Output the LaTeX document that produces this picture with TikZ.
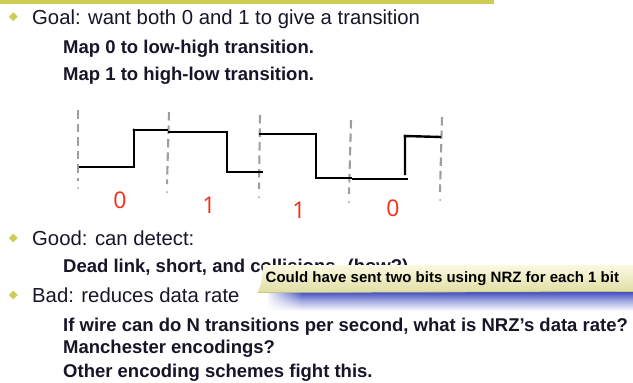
\documentclass[tikz,border=0pt]{standalone}
\usepackage{fontspec}
\setmainfont{Liberation Sans}
\newfontfamily\digitfont{Open Sans}
\usetikzlibrary{shapes.geometric,fadings}
\definecolor{accent}{RGB}{205,205,85}
\definecolor{ink}{RGB}{22,22,40}
\definecolor{bitred}{RGB}{245,45,20}
\definecolor{gridgray}{RGB}{158,158,158}
\definecolor{notetop}{RGB}{250,249,226}
\definecolor{notebot}{RGB}{224,221,163}
\definecolor{noteedge}{RGB}{200,196,130}
\definecolor{shadowblue}{RGB}{55,70,188}
\tikzfading[name=fadeleft, left color=transparent!0, right color=transparent!100]
\begin{document}
\begin{tikzpicture}[x=1pt,y=-1pt,
  lvlone/.style={anchor=base west, inner sep=0pt, text=ink, font=\fontsize{20.3}{24}\selectfont},
  lvltwo/.style={anchor=base west, inner sep=0pt, text=ink, font=\fontsize{18.5}{22}\selectfont\bfseries},
  bulletmark/.style={diamond, fill=accent, inner sep=0pt, minimum width=9pt, minimum height=9pt},
  bitlabel/.style={text=bitred, inner sep=0pt, font=\digitfont\fontsize{23}{27}\selectfont},
  wave/.style={line width=2.4pt, black, line join=miter},
  gridline/.style={gridgray, line width=2.1pt, dash pattern=on 8.5pt off 5pt},
  notetext/.style={anchor=base west, inner sep=0pt, text=black, font=\fontsize{15}{18}\selectfont\bfseries}
]
\useasboundingbox (0,0) rectangle (633,383);
\fill[white] (0,0) rectangle (633,383);

% title rule
\fill[accent] (0,0) rectangle (494,3.5);

% first bullet block
\node[bulletmark] (b1) at (13.3,16.7) {};
\node[lvlone] (goal) at (32,24) {Goal: want both 0 and 1 to give a transition};
\node[lvltwo] (map0) at (63,53) {Map 0 to low-high transition.};
\node[lvltwo] (map1) at (63,80) {Map 1 to high-low transition.};

% bit-cell boundaries
\draw[gridline] (78,110) -- (78,181);
\draw[gridline] (169,112) -- (167,184);
\draw[gridline] (260,115) -- (259,189);
\draw[gridline] (351,120) -- (349,194);
\draw[gridline] (442,117) -- (440,192);
\foreach \px/\py in {78/188, 167/192, 259/197, 349/202, 440/200}
  \fill[gridgray] (\px,\py) circle (1);

% Manchester waveform for 0 1 1 0
\draw[wave] (79,167) -- (134,167) -- (134,130) -- (168,130);
\draw[wave] (168,132) -- (227,132) -- (227,172) -- (263,172);
\draw[wave] (259,134) -- (316,134) -- (316,178) -- (352,178);
\draw[wave] (352,179) -- (408,179);
\draw[wave] (405,175) -- (405,136) -- (441,137);
\fill (134,130) circle (1.7);
\fill (405,136) circle (1.7);

% bit values
\node[bitlabel] (bit1) at (120,200) {0};
\node[bitlabel] (bit2) at (209,205) {1};
\node[bitlabel] (bit3) at (299,210) {1};
\node[bitlabel] (bit4) at (393,208) {0};

% second bullet block
\node[bulletmark] (b2) at (13.3,238) {};
\node[lvlone] (good) at (32,245) {Good: can detect:};
\node[lvltwo] (dead) at (63,272) {Dead link, short, and collisions. (how?)};
\node[bulletmark] (b3) at (13.3,295) {};
\node[lvlone] (bad) at (32,302) {Bad: reduces data rate};
\node[lvltwo] (wire) at (63,331) {If wire can do N transitions per second, what is NRZ’s data rate?};
\node[lvltwo] (manch) at (63,353) {Manchester encodings?};
\node[lvltwo] (other) at (63,377) {Other encoding schemes fight this.};

% callout with its drop shadow
\shade[top color=shadowblue, bottom color=shadowblue!45!white] (268,291) rectangle (633,301);
\shade[top color=shadowblue!45!white, bottom color=white] (268,301) rectangle (633,311);
\fill[white, path fading=fadeleft] (265,289) rectangle (302,312);
\shade[top color=notetop, bottom color=notebot]
  (263,265) -- (633,265) -- (633,291.5) -- (257.5,292.5)
  .. controls (261,287) and (262.5,276) .. (263,265) -- cycle;
\draw[noteedge, line width=0.6pt] (257.5,292.5) -- (633,291.5);
\node[notetext] (note) at (265.5,282) {Could have sent two bits using NRZ for each 1 bit};
\end{tikzpicture}
\end{document}
